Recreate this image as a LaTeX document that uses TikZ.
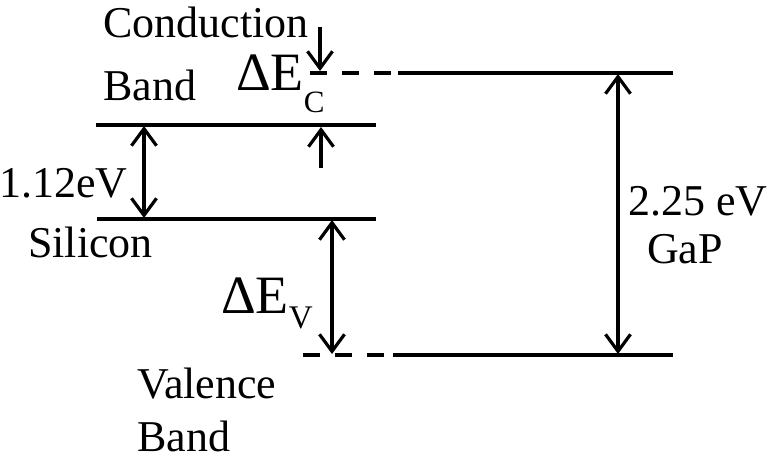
\documentclass[tikz,border=0pt]{standalone}
\usepackage{fontspec}
\setmainfont{Liberation Serif}
\usetikzlibrary{arrows.meta}
\tikzset{
  band/.style={line width=4pt},
  offband/.style={line width=4pt, dash pattern=on 17pt off 15pt},
  barb/.tip={Straight Barb[length=17pt,width=25pt]},
  gaparrow/.style={line width=3.2pt, barb-barb},
  steparrow/.style={line width=3.2pt, -barb},
  lbl/.style={inner sep=0pt, anchor=base west, font=\fontsize{44}{48}\selectfont},
  dlbl/.style={inner sep=0pt, anchor=base west, font=\fontsize{54}{60}\selectfont}
}
\begin{document}
\begin{tikzpicture}[x=1pt, y=-1pt]
    \useasboundingbox (0,0) rectangle (770,459);
    \coordinate (sicL) at (96,125);  \coordinate (sicR) at (376,125);
    \coordinate (sivL) at (97,219);  \coordinate (sivR) at (376,219);
    \coordinate (gpcD) at (310,73);  \coordinate (gpcL) at (398,73);  \coordinate (gpcR) at (673,73);
    \coordinate (gpvD) at (303,355); \coordinate (gpvL) at (393,355); \coordinate (gpvR) at (673,355);
    \draw[band] (sicL) -- (sicR);
    \draw[band] (sivL) -- (sivR);
    \draw[offband] (gpcD) -- (gpcL);
    \draw[band] (gpcL) -- (gpcR);
    \draw[offband] (gpvD) -- (gpvL);
    \draw[band] (gpvL) -- (gpvR);
    \draw[gaparrow] (144,126) -- (144,218);
    \draw[gaparrow] (618,74) -- (618,354);
    \draw[gaparrow] (332,220) -- (332,354);
    \draw[steparrow] (320,27) -- (320,71);
    \draw[steparrow] (321,168) -- (321,127);
    \node[lbl] (cond) at (103,37) {Conduction};
    \node[lbl] (cband) at (103,100) {Band};
    \node[dlbl] (dec) at (236,90) {ΔE\raisebox{-22pt}{\fontsize{31}{34}\selectfont C}};
    \node[lbl] (sigap) at (-1,197) {1.12eV};
    \node[lbl] (si) at (28,257) {Silicon};
    \node[dlbl] (dev) at (221,313) {ΔE\raisebox{-15pt}{\fontsize{33}{36}\selectfont V}};
    \node[lbl] (val) at (137,398) {Valence};
    \node[lbl] (vband) at (137,451) {Band};
    \node[lbl] (gpgap) at (628,215) {2.25 eV};
    \node[lbl] (gp) at (647,263) {GaP};
\end{tikzpicture}
\end{document}
